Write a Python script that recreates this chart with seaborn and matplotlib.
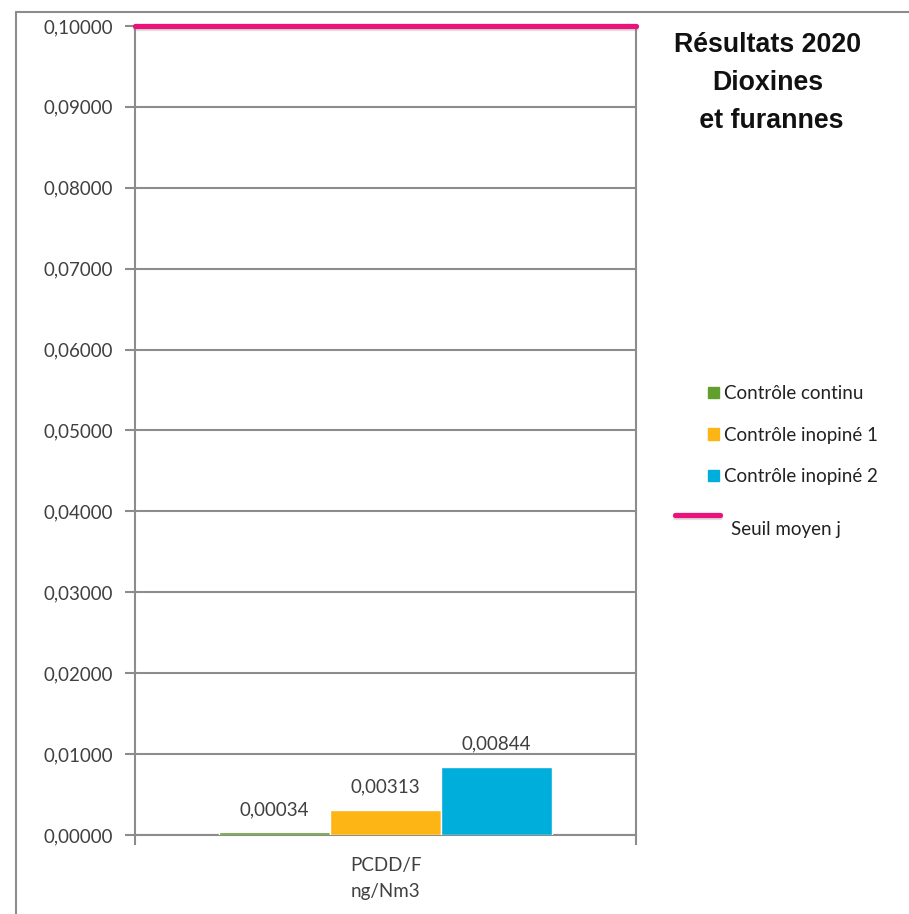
import pandas as pd
import matplotlib
matplotlib.use("Agg")
import matplotlib.pyplot as plt
import matplotlib.patheffects as pe
from matplotlib.patches import Patch
from matplotlib.lines import Line2D
from matplotlib.ticker import FuncFormatter, FixedLocator
import seaborn as sns

# data
categorie = ["PCDD/F\nng/Nm3"]
series = ["Contrôle continu", "Contrôle inopiné 1", "Contrôle inopiné 2"]
valeurs = [0.00034, 0.00313, 0.00844]
seuil = 0.1
couleurs = ["#62A02C", "#FDB515", "#00AEDB"]
rose = "#E8147A"
gris = "#8C8C8C"

sns.set_style("white")
plt.rcParams["font.family"] = ["Lato", "DejaVu Sans"]

df = pd.DataFrame({"param": categorie * len(series), "serie": series, "valeur": valeurs})

fig = plt.figure(figsize=(9.09, 9.14), dpi=100)
ax = fig.add_axes([0.1485, 0.0864, 0.5512, 0.8852])

sns.barplot(data=df, x="param", y="valeur", hue="serie", palette=couleurs,
            width=0.665, gap=0, saturation=1, legend=False, ax=ax, zorder=3)

fmt = lambda v: f"{v:.5f}".replace(".", ",")
for cont, v in zip(ax.containers, valeurs):
    ax.bar_label(cont, labels=[fmt(v)], padding=10, fontsize=13.5, color="#404040")

ombre = [pe.SimpleLineShadow(offset=(0, -1.5), shadow_color="gray", alpha=0.25), pe.Normal()]
ax.axhline(seuil, color=rose, lw=3.8, zorder=5, clip_on=False, path_effects=ombre)

ax.set_xlim(-0.5, 0.5)
ax.set_ylim(0, 0.1)
ax.set_yticks([i / 100 for i in range(11)])
ax.yaxis.set_major_formatter(FuncFormatter(lambda v, p: fmt(v)))
ax.yaxis.grid(True, color=gris, lw=1.5, zorder=0)
ax.set_axisbelow(True)
ax.tick_params(axis="y", length=7, width=1.5, color=gris, labelsize=13.5,
               labelcolor="#404040", pad=9, direction="out", left=True)
ax.tick_params(axis="x", which="major", length=0, labelsize=13.5, labelcolor="#404040", pad=15.5)
ax.xaxis.set_minor_locator(FixedLocator([-0.5, 0.5]))
ax.tick_params(axis="x", which="minor", length=7, width=1.5, color=gris, direction="out", bottom=True)
for lab in ax.get_xticklabels():
    lab.set_linespacing(1.7)
ax.set_xlabel("")
ax.set_ylabel("")
for s in ["left", "right", "bottom"]:
    ax.spines[s].set_color(gris)
    ax.spines[s].set_linewidth(1.5)
ax.spines["top"].set_visible(False)

# outer frame
fig.add_artist(Line2D([16 / 909, 16 / 909], [0, 1 - 12 / 914], color=gris, lw=1.5))
fig.add_artist(Line2D([16 / 909, 1], [1 - 12 / 914, 1 - 12 / 914], color=gris, lw=1.5))

# titre
fig.text(768 / 909, 1 - 32 / 914, "Résultats 2020\nDioxines\n et furannes", ha="center", va="top",
         fontsize=19.3, fontweight="bold", linespacing=1.6,
         family=["Liberation Sans", "DejaVu Sans"], color="#111111")

# legende
handles = [Patch(color=c) for c in couleurs]
fig.legend(handles, series, loc="upper left", bbox_to_anchor=(699 / 909, 1 - 376 / 914),
           frameon=False, fontsize=13.5, handlelength=0.55, handleheight=0.55,
           handletextpad=0.3, labelspacing=1.3, labelcolor="#222222", borderpad=0)

fig.add_artist(Line2D([675 / 909, 720 / 909], [1 - 515 / 914] * 2, color=rose, lw=3.8,
                      path_effects=ombre))
fig.text(731 / 909, 1 - 535 / 914, "Seuil moyen j", fontsize=13.5, color="#222222")

fig.savefig("out.png", dpi=100)
